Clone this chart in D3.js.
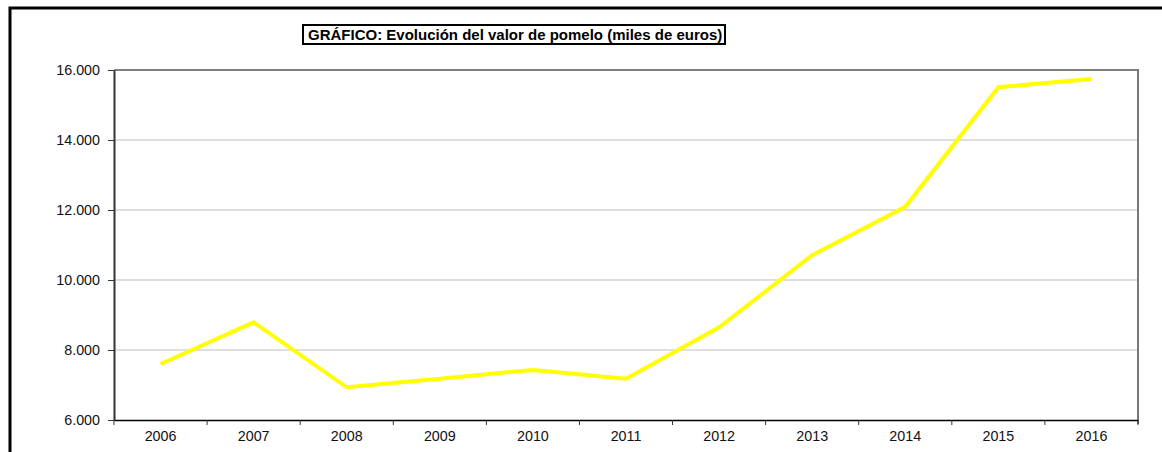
<!DOCTYPE html>
<html>
<head>
<meta charset="utf-8">
<script src="https://cdn.jsdelivr.net/npm/d3@7"></script>
<style>
  html, body { margin: 0; padding: 0; background: #fff; }
  svg { display: block; }
  text { font-family: "Liberation Sans", Arial, sans-serif; }
</style>
</head>
<body>
<svg id="chart" width="1162" height="452"></svg>
<script>
const years = ["2006","2007","2008","2009","2010","2011","2012","2013","2014","2015","2016"];
const values = [7600, 8790, 6935, 7180, 7430, 7180, 8650, 10710, 12090, 15510, 15740];
const yTicks = [6000, 8000, 10000, 12000, 14000, 16000];
const titleText = "GRÁFICO: Evolución del valor de pomelo (miles de euros)";

const svg = d3.select("#chart");
const W = 1162, H = 452;
const m = { left: 114, right: 1138, top: 70, bottom: 420 };

// outer frame (extends past the viewport on right/bottom)
svg.append("rect")
  .attr("x", 10).attr("y", 8)
  .attr("width", W + 20).attr("height", H + 20)
  .attr("fill", "#fff").attr("stroke", "#000").attr("stroke-width", 3);

const x = d3.scaleBand().domain(years).range([m.left, m.right]).padding(0);
const y = d3.scaleLinear().domain([6000, 16000]).range([m.bottom, m.top]);

// gridlines
svg.append("g").selectAll("line")
  .data(yTicks.filter(t => t > 6000 && t < 16000))
  .join("line")
  .attr("x1", m.left).attr("x2", m.right)
  .attr("y1", d => y(d)).attr("y2", d => y(d))
  .attr("stroke", "#c0c0c0").attr("stroke-width", 1.2);

// plot top border
svg.append("line")
  .attr("x1", m.left).attr("x2", m.right + 1)
  .attr("y1", y(16000)).attr("y2", y(16000))
  .attr("stroke", "#000").attr("stroke-width", 1.2);
// plot right border
svg.append("line")
  .attr("x1", m.right).attr("x2", m.right)
  .attr("y1", y(16000)).attr("y2", m.bottom + 4)
  .attr("stroke", "#777").attr("stroke-width", 2);

// y axis
const fmt = d => d3.format(",")(d).replace(/,/g, ".");
const yAxis = svg.append("g")
  .attr("transform", `translate(${m.left},0)`)
  .call(d3.axisLeft(y).tickValues(yTicks).tickFormat(fmt).tickSize(6).tickPadding(8).tickSizeOuter(0));
yAxis.select(".domain").attr("stroke", "#333").attr("stroke-width", 2);
yAxis.selectAll(".tick line").attr("stroke", "#333");
yAxis.selectAll("text").attr("font-size", 14.3).attr("fill", "#111");

// x axis labels
const xAxis = svg.append("g")
  .attr("transform", `translate(0,${m.bottom})`)
  .call(d3.axisBottom(x).tickSize(0).tickPadding(11).tickSizeOuter(0));
xAxis.select(".domain").attr("stroke", "#000").attr("stroke-width", 1.5);
xAxis.selectAll("text").attr("font-size", 14.3).attr("fill", "#111");

// x tick marks at category boundaries
const boundaries = years.map(d => x(d)).concat([x(years[years.length - 1]) + x.bandwidth()]);
svg.append("g").selectAll("line")
  .data(boundaries)
  .join("line")
  .attr("x1", d => d).attr("x2", d => d)
  .attr("y1", m.bottom).attr("y2", m.bottom + 5)
  .attr("stroke", "#333").attr("stroke-width", 1);

// line
const line = d3.line()
  .x((d, i) => x(years[i]) + x.bandwidth() / 2)
  .y(d => y(d));
svg.append("path")
  .datum(values)
  .attr("d", line)
  .attr("fill", "none")
  .attr("stroke", "#ffff00")
  .attr("stroke-width", 4)
  .attr("stroke-linejoin", "miter");

// title box
svg.append("rect")
  .attr("x", 303).attr("y", 25).attr("width", 422).attr("height", 19)
  .attr("fill", "#fff").attr("stroke", "#000").attr("stroke-width", 2);
svg.append("text")
  .attr("x", 308).attr("y", 39.5)
  .attr("font-size", 15).attr("font-weight", "bold").attr("fill", "#000")
  .text(titleText);
</script>
</body>
</html>
